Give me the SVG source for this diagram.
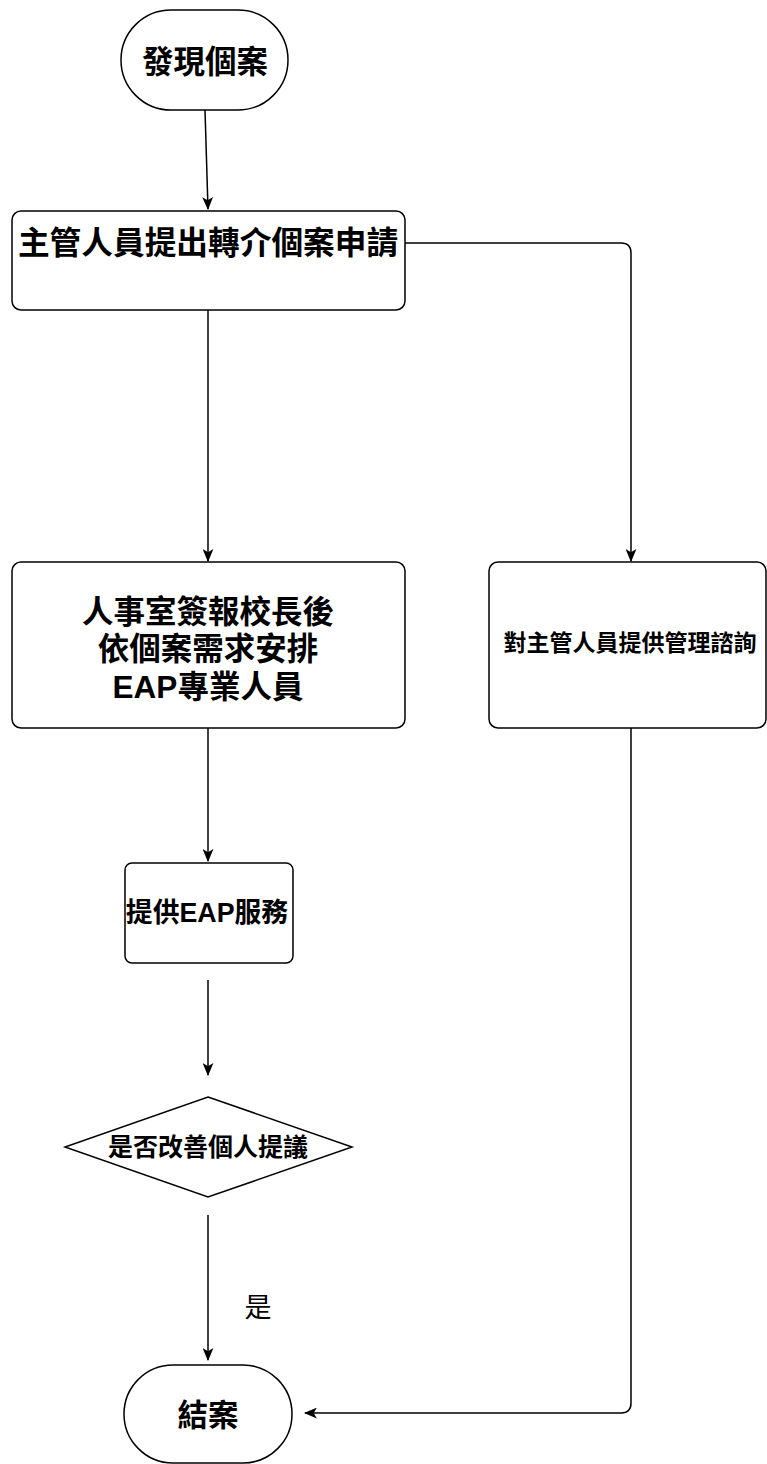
<svg xmlns="http://www.w3.org/2000/svg" width="767" height="1464" viewBox="0 0 767 1464">
<style>
.n{fill:#fff;stroke:#000;stroke-width:1.5}
.c{fill:none;stroke:#000;stroke-width:1.5}
text{font-family:"Liberation Sans","Noto Sans CJK TC",sans-serif;fill:#000;text-anchor:middle;dominant-baseline:central}
.b{font-weight:bold}
</style>
<defs>
<marker id="a" viewBox="0 0 12 10" refX="11" refY="5" markerWidth="13" markerHeight="11" markerUnits="userSpaceOnUse" orient="auto">
<path d="M0,0 L12,5 L0,10 L3,5 Z" fill="#000"/>
</marker>
</defs>
<rect width="767" height="1464" fill="#fff"/>
<g id="connectors">
<path class="c" d="M205,110 L208,209" marker-end="url(#a)"/>
<path class="c" d="M208,310 L208,561" marker-end="url(#a)"/>
<path class="c" d="M405,243 L621,243 Q631,243 631,253 L631,561" marker-end="url(#a)"/>
<path class="c" d="M208,728 L208,861" marker-end="url(#a)"/>
<path class="c" d="M208,980 L208,1075" marker-end="url(#a)"/>
<path class="c" d="M208,1215 L208,1360" marker-end="url(#a)"/>
<path class="c" d="M631,728 L631,1403 Q631,1413 621,1413 L305,1413" marker-end="url(#a)"/>
</g>
<g id="start">
<rect class="n" x="121" y="10" width="167" height="100" rx="50" ry="50"/>
<text class="b" x="205" y="62" font-size="31.5">發現個案</text>
</g>
<g id="apply">
<rect class="n" x="12" y="211" width="393" height="99" rx="9" ry="9"/>
<text class="b" x="208" y="243" font-size="31.7">主管人員提出轉介個案申請</text>
</g>
<g id="arrange">
<rect class="n" x="12" y="562" width="393" height="166" rx="9" ry="9"/>
<text class="b" x="208" y="612" font-size="31.5">人事室簽報校長後</text>
<text class="b" x="208" y="649" font-size="31.5">依個案需求安排</text>
<text class="b" x="208" y="687" font-size="31.5">EAP專業人員</text>
</g>
<g id="consult">
<rect class="n" x="489" y="562" width="277" height="166" rx="9" ry="9"/>
<text class="b" x="630" y="643" font-size="23">對主管人員提供管理諮詢</text>
</g>
<g id="service">
<rect class="n" x="125" y="863" width="168" height="100" rx="7" ry="7"/>
<text class="b" x="207" y="913" font-size="26.8">提供EAP服務</text>
</g>
<g id="decision">
<polygon class="n" points="208,1097 352,1147 208,1197 65,1147"/>
<text class="b" x="208" y="1147" font-size="25">是否改善個人提議</text>
</g>
<text x="258" y="1308" font-size="27">是</text>
<g id="end">
<rect class="n" x="124" y="1365" width="168" height="98" rx="49" ry="49"/>
<text class="b" x="208" y="1415" font-size="30.5">結案</text>
</g>
</svg>
